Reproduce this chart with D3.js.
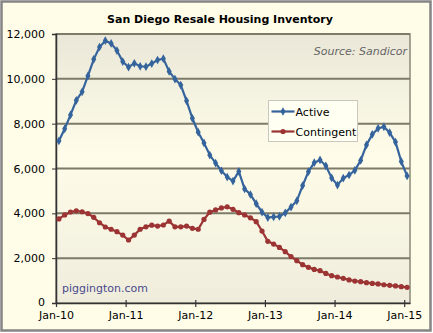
<!DOCTYPE html>
<html>
<head>
<meta charset="utf-8">
<script src="https://cdn.jsdelivr.net/npm/d3@7"></script>
<style>
  body { margin: 0; background: #fff; }
  svg { display: block; font-family: "DejaVu Sans", Verdana, sans-serif; }
</style>
</head>
<body>
<svg id="chart" width="433" height="333"></svg>
<script>
// monthly, Jan-10 .. Jan-15
var months = d3.timeMonth.range(new Date(2010, 0, 1), new Date(2015, 1, 1));
var tickLabels = ["Jan-10", "Jan-11", "Jan-12", "Jan-13", "Jan-14", "Jan-15"];
var yTicks = [0, 2000, 4000, 6000, 8000, 10000, 12000];

var active = [
  7230, 7770, 8390, 9040, 9420, 10130, 10870, 11420, 11700, 11580, 11260, 10770,
  10520, 10690, 10560, 10540, 10680, 10840, 10900, 10330, 9990, 9720, 9020, 8240,
  7620, 7140, 6600, 6240, 5900, 5620, 5440, 5870, 5090, 4840, 4430, 4050,
  3810, 3840, 3860, 4020, 4280, 4560, 5240, 5860, 6260, 6380, 6120, 5580,
  5260, 5570, 5710, 5920, 6360, 7050, 7520, 7790, 7860, 7600, 7180, 6310,
  5670
];
var contingent = [
  3750, 3930, 4060, 4110, 4070, 3990, 3820, 3580, 3390, 3290, 3180, 3030,
  2810, 3030, 3290, 3400, 3470, 3430, 3480, 3650, 3400, 3400, 3430, 3330,
  3290, 3730, 4050, 4150, 4240, 4290, 4180, 4030, 3930, 3800, 3630, 3210,
  2750, 2630, 2480, 2290, 2070, 1890, 1710, 1590, 1500, 1440, 1320, 1220,
  1160, 1100, 1030, 980, 950, 905, 875, 850, 815, 790, 760, 730,
  700
];
var seriesNames = ["Active", "Contingent"];
var seriesColors = ["#35649c", "#9c3434"];

var svg = d3.select("#chart");
var margin = {top: 34, right: 23, bottom: 30, left: 56},
    width = 433 - margin.left - margin.right,
    height = 303 - margin.top;

var defs = svg.append("defs");
var grad = defs.append("linearGradient").attr("id", "plotbg")
    .attr("x1", 0).attr("y1", 0).attr("x2", 0).attr("y2", 1);
grad.append("stop").attr("offset", "0%").attr("stop-color", "#eae7d8");
grad.append("stop").attr("offset", "45%").attr("stop-color", "#fffde9");
grad.append("stop").attr("offset", "100%").attr("stop-color", "#efecdc");

// outer frame
svg.append("rect")
    .attr("x", 1.5).attr("y", 1.5).attr("width", 429).attr("height", 329)
    .attr("fill", "#fffde8").attr("stroke", "#858585").attr("stroke-width", 2.5);

svg.append("text")
    .attr("x", 220).attr("y", 23)
    .attr("text-anchor", "middle")
    .attr("font-size", "11px").attr("font-weight", "bold")
    .text("San Diego Resale Housing Inventory");

var chart = svg.append("g")
    .attr("transform", "translate(" + margin.left + "," + margin.top + ")");

var x = d3.scaleLinear().domain([0, months.length]).range([0, width]);
var y = d3.scaleLinear().domain([0, 12000]).range([height, 0]);

chart.append("rect")
    .attr("width", width).attr("height", height)
    .attr("fill", "url(#plotbg)")
    .attr("stroke", "#8a8878").attr("stroke-width", 1.5);

// gridlines
chart.append("g").selectAll("line")
    .data(yTicks.filter(function(d) { return d > 0; }))
  .enter().append("line")
    .attr("x1", 0).attr("x2", width)
    .attr("y1", function(d) { return y(d); })
    .attr("y2", function(d) { return y(d); })
    .attr("stroke", "#7d7a68").attr("stroke-width", 2);

// y axis
var yAxis = chart.append("g")
    .call(d3.axisLeft(y).tickValues(yTicks).tickSize(4).tickPadding(7)
      .tickFormat(d3.format(",")));
yAxis.select(".domain").attr("stroke", "#333").attr("stroke-width", 1.5);
yAxis.selectAll(".tick line").attr("stroke", "#333");
yAxis.selectAll("text").attr("font-size", "11px").attr("fill", "#000")
    .attr("font-family", "DejaVu Sans, sans-serif");
yAxis.selectAll("text").filter(function(d) { return d === 0; }).attr("dy", "0.2em");

// x axis
var xAxis = chart.append("g")
    .attr("transform", "translate(0," + height + ")")
    .call(d3.axisBottom(x).tickValues([0, 12, 24, 36, 48, 60]).tickSize(4).tickSizeOuter(0)
      .tickPadding(4)
      .tickFormat(function(d, i) { return tickLabels[i]; }));
xAxis.select(".domain").attr("stroke", "#333").attr("stroke-width", 1.5);
xAxis.selectAll(".tick line").attr("stroke", "#333").attr("y1", -3).attr("stroke-width", 1.2);
xAxis.selectAll("text").attr("font-size", "11px").attr("fill", "#000")
    .attr("font-family", "DejaVu Sans, sans-serif");

// source & watermark
chart.append("text")
    .attr("x", width - 3).attr("y", 21)
    .attr("text-anchor", "end")
    .attr("font-size", "11px").attr("font-style", "italic").attr("fill", "#666")
    .text("Source: Sandicor");
chart.append("text")
    .attr("x", 6).attr("y", height - 11)
    .attr("font-size", "11px").attr("fill", "#4a4a8c")
    .text("piggington.com");

var line = d3.line()
    .x(function(d, i) { return x(i + 0.5); })
    .y(function(d) { return y(d); });

var diamond = d3.symbol().type(d3.symbolDiamond).size(22);

[active, contingent].forEach(function(vals, s) {
  chart.append("path")
      .datum(vals)
      .attr("fill", "none")
      .attr("stroke", seriesColors[s])
      .attr("stroke-width", 2.2)
      .attr("d", line);
  var marks = chart.append("g").selectAll(".m" + s)
      .data(vals).enter();
  if (s === 0) {
    marks.append("path")
        .attr("d", diamond)
        .attr("transform", function(d, i) { return "translate(" + x(i + 0.5) + "," + y(d) + ")"; })
        .attr("fill", seriesColors[s]);
  } else {
    marks.append("circle")
        .attr("cx", function(d, i) { return x(i + 0.5); })
        .attr("cy", function(d) { return y(d); })
        .attr("r", 2.6)
        .attr("fill", seriesColors[s]);
  }
});

// legend
var legend = svg.append("g").attr("transform", "translate(268.5,100.5)");
legend.append("rect")
    .attr("width", 89).attr("height", 41)
    .attr("fill", "#fffff2").attr("stroke", "#c8c8c0").attr("stroke-width", 1);
seriesNames.forEach(function(name, s) {
  var ly = 11 + s * 20;
  legend.append("line")
      .attr("x1", 3).attr("x2", 26).attr("y1", ly).attr("y2", ly)
      .attr("stroke", seriesColors[s]).attr("stroke-width", 2.2);
  if (s === 0) {
    legend.append("path").attr("d", diamond)
        .attr("transform", "translate(14.5," + ly + ")")
        .attr("fill", seriesColors[s]);
  } else {
    legend.append("circle").attr("cx", 14.5).attr("cy", ly).attr("r", 2.6)
        .attr("fill", seriesColors[s]);
  }
  legend.append("text")
      .attr("x", 27).attr("y", ly + 4)
      .attr("font-size", "11px").attr("fill", "#000")
      .text(name);
});
</script>
</body>
</html>
